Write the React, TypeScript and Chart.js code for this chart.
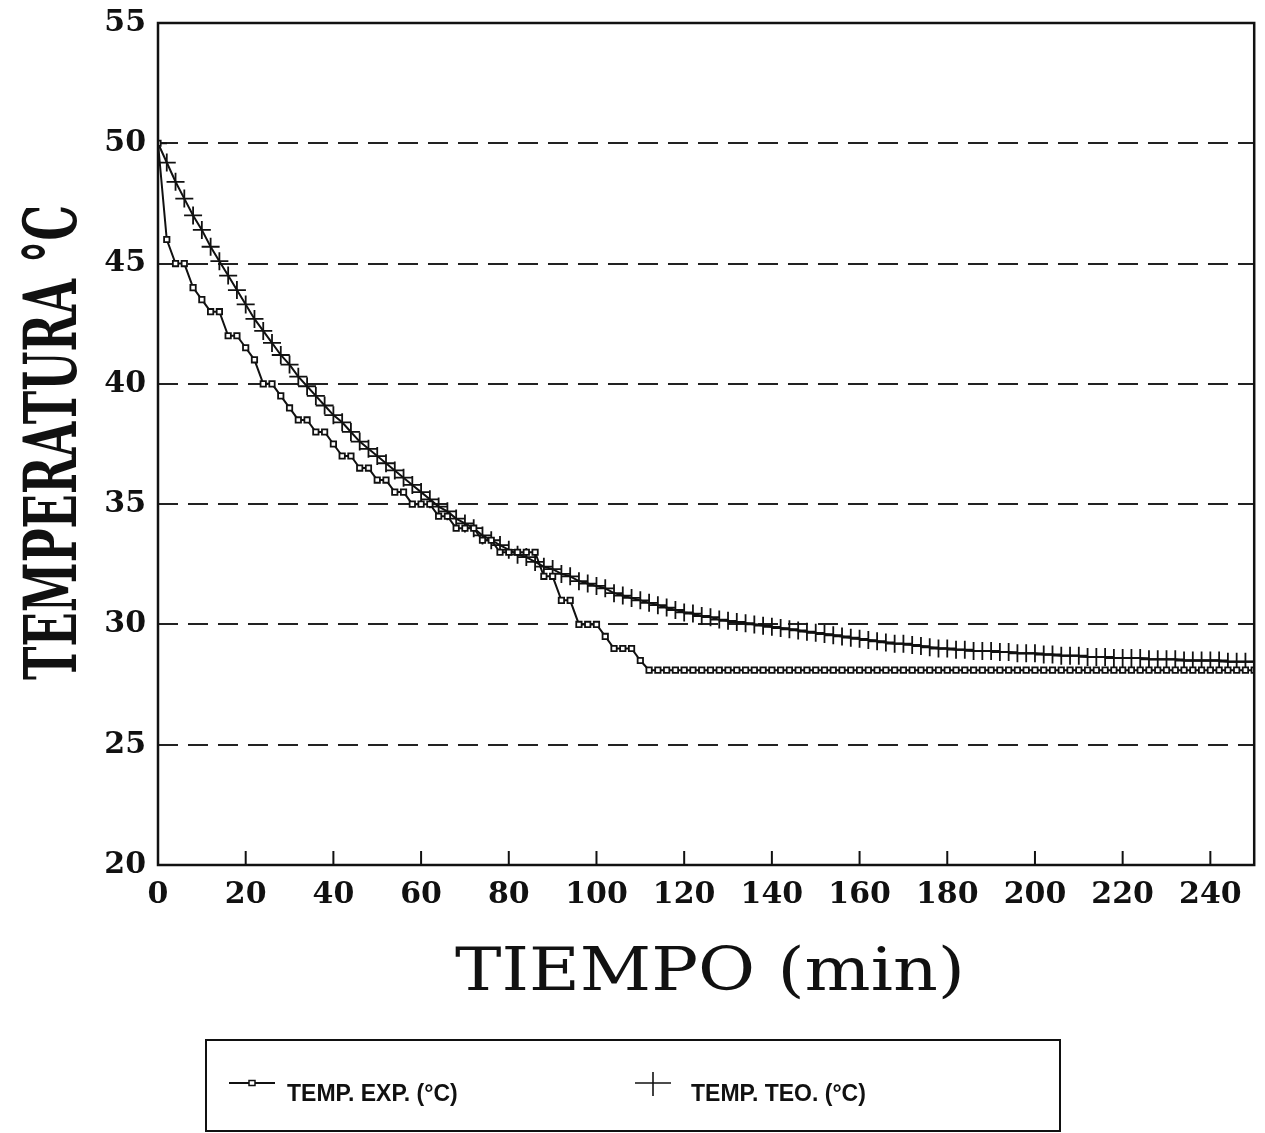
import React, { useEffect, useRef } from "react";
import { Chart, registerables } from "chart.js";

Chart.register(...registerables);

// ---- data ----
const TIME_MIN = [
  0, 2, 4, 6, 8, 10, 12, 14, 16, 18, 20, 22, 24, 26, 28, 30, 32, 34, 36, 38,
  40, 42, 44, 46, 48, 50, 52, 54, 56, 58, 60, 62, 64, 66, 68, 70, 72, 74, 76, 78,
  80, 82, 84, 86, 88, 90, 92, 94, 96, 98, 100, 102, 104, 106, 108, 110, 112, 114, 116, 118,
  120, 122, 124, 126, 128, 130, 132, 134, 136, 138, 140, 142, 144, 146, 148, 150, 152, 154, 156, 158,
  160, 162, 164, 166, 168, 170, 172, 174, 176, 178, 180, 182, 184, 186, 188, 190, 192, 194, 196, 198,
  200, 202, 204, 206, 208, 210, 212, 214, 216, 218, 220, 222, 224, 226, 228, 230, 232, 234, 236, 238,
  240, 242, 244, 246, 248, 250,
];

const TEMP_EXP = [
  50, 46, 45, 45, 44, 43.5, 43, 43, 42, 42, 41.5, 41, 40, 40, 39.5, 39, 38.5, 38.5, 38, 38,
  37.5, 37, 37, 36.5, 36.5, 36, 36, 35.5, 35.5, 35, 35, 35, 34.5, 34.5, 34, 34, 34, 33.5, 33.5, 33,
  33, 33, 33, 33, 32, 32, 31, 31, 30, 30, 30, 29.5, 29, 29, 29, 28.5, 28.1, 28.1, 28.1, 28.1,
  28.1, 28.1, 28.1, 28.1, 28.1, 28.1, 28.1, 28.1, 28.1, 28.1, 28.1, 28.1, 28.1, 28.1, 28.1, 28.1, 28.1, 28.1, 28.1, 28.1,
  28.1, 28.1, 28.1, 28.1, 28.1, 28.1, 28.1, 28.1, 28.1, 28.1, 28.1, 28.1, 28.1, 28.1, 28.1, 28.1, 28.1, 28.1, 28.1, 28.1,
  28.1, 28.1, 28.1, 28.1, 28.1, 28.1, 28.1, 28.1, 28.1, 28.1, 28.1, 28.1, 28.1, 28.1, 28.1, 28.1, 28.1, 28.1, 28.1, 28.1,
  28.1, 28.1, 28.1, 28.1, 28.1, 28.1,
];

const TEMP_TEO = [
  50.0, 49.2, 48.4, 47.7, 47.0, 46.4, 45.7, 45.1, 44.5, 43.9, 43.3, 42.7, 42.2, 41.7, 41.2, 40.8, 40.3, 39.9, 39.5, 39.1,
  38.7, 38.4, 38.0, 37.6, 37.3, 37.0, 36.7, 36.4, 36.1, 35.8, 35.5, 35.2, 34.9, 34.7, 34.4, 34.2, 34.0, 33.7, 33.5, 33.3,
  33.1, 32.9, 32.8, 32.6, 32.4, 32.3, 32.1, 32.0, 31.8, 31.7, 31.6, 31.5, 31.3, 31.2, 31.1, 31.0, 30.9, 30.8, 30.7, 30.6,
  30.5, 30.45, 30.35, 30.3, 30.2, 30.15, 30.1, 30.05, 30.0, 29.95, 29.9, 29.85, 29.8, 29.75, 29.7, 29.65, 29.6, 29.55, 29.5, 29.45,
  29.4, 29.35, 29.3, 29.25, 29.2, 29.2, 29.15, 29.1, 29.05, 29.0, 29.0, 28.95, 28.95, 28.9, 28.9, 28.9, 28.85, 28.85, 28.8, 28.8,
  28.8, 28.75, 28.75, 28.7, 28.7, 28.7, 28.65, 28.65, 28.65, 28.6, 28.6, 28.6, 28.6, 28.55, 28.55, 28.55, 28.55, 28.5, 28.5, 28.5,
  28.5, 28.5, 28.45, 28.45, 28.45, 28.45,
];

const X_TICK_VALUES = [0, 20, 40, 60, 80, 100, 120, 140, 160, 180, 200, 220, 240];
const Y_TICK_VALUES = [20, 25, 30, 35, 40, 45, 50, 55];
const Y_DASHED_VALUES = [25, 30, 35, 40, 45, 50];

const Y_TITLE = "TEMPERATURA °C";
const X_TITLE = "TIEMPO (min)";
const LEGEND_EXP = "TEMP. EXP. (°C)";
const LEGEND_TEO = "TEMP. TEO. (°C)";

const INK = "#111";

const decorPlugin = {
  id: "decor",
  afterDraw(chart: any) {
    const { ctx, chartArea: a, scales } = chart;
    ctx.save();
    // plot frame
    ctx.strokeStyle = INK;
    ctx.lineWidth = 2.5;
    ctx.setLineDash([]);
    ctx.strokeRect(a.left, a.top, a.right - a.left, a.bottom - a.top);
    // inward tick marks on the time axis
    ctx.lineWidth = 2;
    X_TICK_VALUES.forEach((v) => {
      if (v === 0) return;
      const px = scales.x.getPixelForValue(v);
      ctx.beginPath();
      ctx.moveTo(px, a.bottom);
      ctx.lineTo(px, a.bottom - 14);
      ctx.stroke();
    });
    ctx.fillStyle = INK;
    // y title (rotated, condensed)
    ctx.font = "bold 72px 'DejaVu Serif'";
    ctx.textAlign = "left";
    ctx.textBaseline = "alphabetic";
    const wy = ctx.measureText(Y_TITLE).width;
    ctx.save();
    ctx.translate(76, 680);
    ctx.rotate(-Math.PI / 2);
    ctx.scale(475 / wy, 1);
    ctx.fillText(Y_TITLE, 0, 0);
    ctx.restore();
    // x title (wide)
    ctx.font = "60px 'DejaVu Serif'";
    const wx = ctx.measureText(X_TITLE).width;
    ctx.save();
    ctx.translate(455, 990);
    ctx.scale(510 / wx, 1);
    ctx.fillText(X_TITLE, 0, 0);
    ctx.restore();
    ctx.restore();
  },
};

export default function App() {
  const ref = useRef<HTMLCanvasElement | null>(null);

  useEffect(() => {
    if (!ref.current) return;
    const expData = TIME_MIN.map((t, i) => ({ x: t, y: TEMP_EXP[i] }));
    const teoData = TIME_MIN.map((t, i) => ({ x: t, y: TEMP_TEO[i] }));
    const chart = new Chart(ref.current, {
      type: "line",
      data: {
        datasets: [
          {
            label: LEGEND_EXP,
            data: expData,
            borderColor: INK,
            borderWidth: 2,
            pointStyle: "rect",
            pointRadius: 3.8,
            pointBorderWidth: 1.8,
            pointBackgroundColor: "#fff",
            pointBorderColor: INK,
            tension: 0,
            order: 0,
          },
          {
            label: LEGEND_TEO,
            data: teoData,
            borderColor: INK,
            borderWidth: 2,
            pointStyle: "cross",
            pointRadius: 9,
            pointBorderWidth: 1.8,
            pointBorderColor: INK,
            tension: 0,
            order: 1,
          },
        ],
      },
      options: {
        animation: false,
        responsive: false,
        events: [],
        layout: { padding: { left: 0, top: 23, right: -6, bottom: 0 } },
        plugins: { legend: { display: false }, tooltip: { enabled: false } },
        scales: {
          x: {
            type: "linear",
            min: 0,
            max: 250,
            afterFit: (s: any) => {
              s.height = 268;
              s.paddingLeft = 0;
              s.paddingRight = 0;
            },
            afterBuildTicks: (s: any) => {
              s.ticks = X_TICK_VALUES.map((v) => ({ value: v }));
            },
            grid: { display: false, drawTicks: false },
            border: { display: false },
            ticks: {
              padding: 12,
              maxRotation: 0,
              autoSkip: false,
              color: INK,
              font: { family: "'DejaVu Serif'", weight: "bold", size: 30 },
            },
          },
          y: {
            type: "linear",
            min: 20,
            max: 55,
            afterFit: (s: any) => {
              s.width = 158;
              s.paddingTop = 0;
              s.paddingBottom = 0;
            },
            afterBuildTicks: (s: any) => {
              s.ticks = Y_TICK_VALUES.map((v) => ({ value: v }));
            },
            grid: {
              drawTicks: false,
              lineWidth: 2,
              color: (c: any) =>
                c.tick && Y_DASHED_VALUES.includes(c.tick.value) ? "#222" : "rgba(0,0,0,0)",
            },
            border: { display: false, dash: [20, 10] },
            ticks: {
              padding: 12,
              color: INK,
              font: { family: "'DejaVu Serif'", weight: "bold", size: 30 },
            },
          },
        },
      },
      plugins: [decorPlugin],
    });
    return () => chart.destroy();
  }, []);

  const legendText: React.CSSProperties = {
    position: "absolute",
    top: 38,
    fontFamily: "'Liberation Sans', Arial, sans-serif",
    fontWeight: "bold",
    fontSize: 23,
    lineHeight: "28px",
    color: INK,
    whiteSpace: "nowrap",
  };

  return (
    <div style={{ position: "absolute", left: 0, top: 0, width: 1265, height: 1133, background: "#fff", overflow: "hidden" }}>
      <canvas ref={ref} width={1265} height={1133} style={{ position: "absolute", left: 0, top: 0 }} />
      <div
        style={{
          position: "absolute",
          left: 205,
          top: 1039,
          width: 856,
          height: 93,
          border: `2px solid ${INK}`,
          boxSizing: "border-box",
        }}
      >
        <svg style={{ position: "absolute", left: 22, top: 34 }} width={50} height={16}>
          <line x1={0} y1={8} x2={46} y2={8} stroke={INK} strokeWidth={2} />
          <rect x={20} y={5.5} width={6} height={5} fill="#fff" stroke={INK} strokeWidth={1.5} />
        </svg>
        <div style={{ ...legendText, left: 80 }}>{LEGEND_EXP}</div>
        <svg style={{ position: "absolute", left: 428, top: 30 }} width={40} height={26}>
          <line x1={0} y1={12} x2={36} y2={12} stroke={INK} strokeWidth={1.6} />
          <line x1={18} y1={1} x2={18} y2={25} stroke={INK} strokeWidth={1.6} />
        </svg>
        <div style={{ ...legendText, left: 484 }}>{LEGEND_TEO}</div>
      </div>
    </div>
  );
}
